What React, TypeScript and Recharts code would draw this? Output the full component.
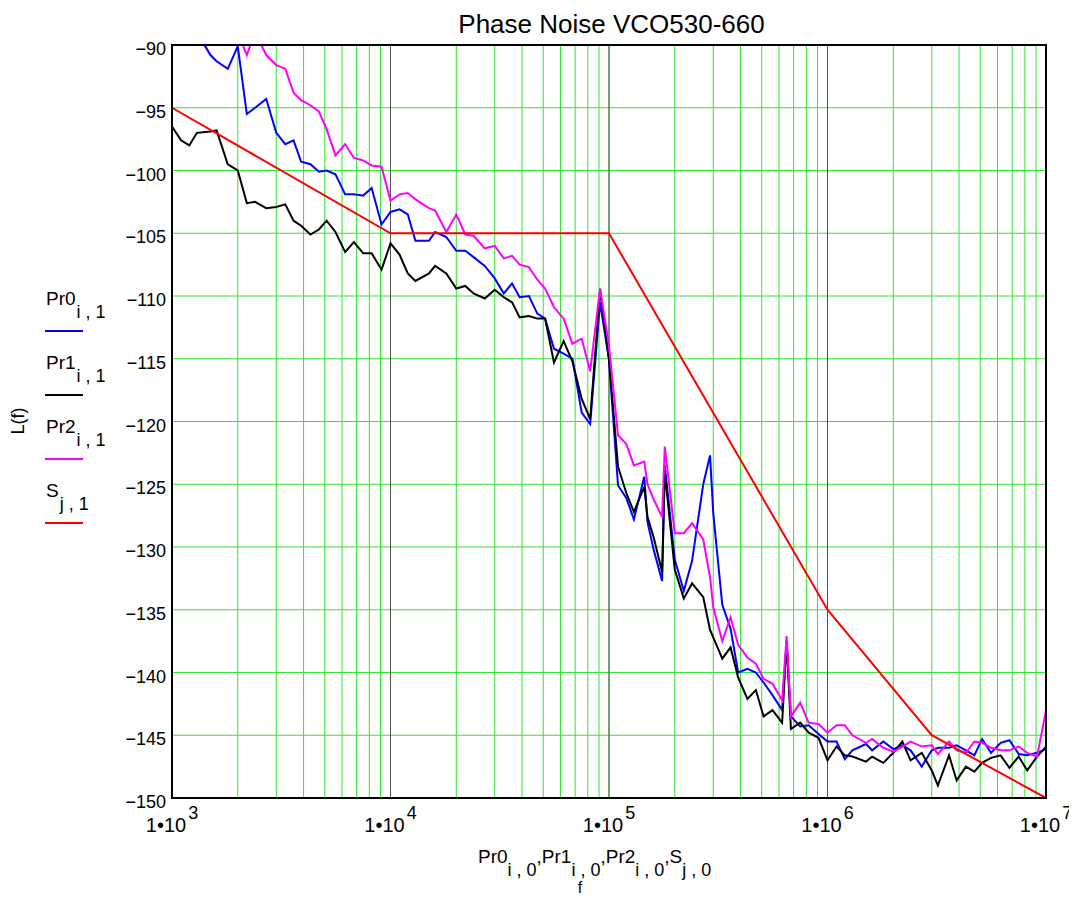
import { LineChart, Line, XAxis, YAxis, CartesianGrid } from 'recharts'

// measurement frequencies (Hz), shared by the three measured traces
const freq = [
  1000, 1100, 1200, 1300, 1500, 1600, 1800, 2000, 2200, 2400, 2700, 3000,
  3300, 3600, 3900, 4300, 4700, 5100, 5600, 6200, 6800, 7500, 8200, 9100,
  10000, 11000, 12000, 13000, 15000, 16000, 18000, 20000, 22000, 24000, 27000, 30000,
  33000, 36000, 39000, 43000, 47000, 51000, 56000, 62000, 68000, 75000, 82000, 91000,
  100000, 110000, 120000, 130000, 145000, 150000, 160000, 175000, 180000, 200000, 220000, 240000,
  270000, 290000, 300000, 330000, 360000, 390000, 430000, 470000, 510000, 560000, 620000, 650000,
  680000, 750000, 820000, 910000,
  1000000, 1100000, 1200000, 1300000, 1500000, 1600000, 1800000, 2000000, 2200000, 2400000, 2700000, 3000000,
  3200000, 3600000, 3900000, 4300000, 4700000, 5100000, 5600000, 6200000, 6800000, 7500000, 8200000, 9100000,
  10000000,
]

// Pr0 (blue)
const pr0 = [
  -86, -87, -88, -89, -90.8, -91.3, -91.9, -90.1, -95.5, -95.0, -94.3, -97.0,
  -97.9, -97.6, -99.3, -99.5, -100.1, -100.0, -100.3, -101.9, -101.9, -102.0, -101.4, -104.3,
  -103.3, -103.1, -103.5, -105.6, -105.6, -104.9, -105.3, -106.4, -106.4, -106.9, -107.6, -108.6,
  -109.8, -109.0, -110.1, -110.0, -111.4, -111.8, -114.2, -114.6, -115.0, -119.3, -120.2, -110.5,
  -115.1, -125.1, -126.1, -127.8, -124.4, -128.0, -130.2, -132.7, -123.5, -131.0, -133.5, -131.1,
  -125.0, -122.7, -127.3, -134.6, -136.5, -140.0, -139.7, -140.0, -140.8, -141.8, -143.0, -137.5,
  -143.5, -144.3, -144.2, -144.9,
  -145.5, -145.5, -146.9, -146.2, -145.7, -146.2, -145.5, -146.1, -145.8, -146.2, -147.5, -146.2,
  -146.0, -146.0, -145.8, -146.2, -146.6, -145.3, -146.4, -145.6, -145.4, -146.5, -146.6, -146.4,
  -146.1,
]

// Pr1 (black)
const pr1 = [
  -96.5, -97.6, -98.0, -97.0, -96.9, -96.8, -99.5, -100.0, -102.6, -102.5, -103.0, -102.9,
  -102.7, -104.0, -104.4, -105.1, -104.7, -104.0, -104.9, -106.5, -105.7, -106.6, -106.6, -107.9,
  -105.8, -106.7, -108.2, -108.8, -108.2, -107.6, -108.2, -109.4, -109.2, -109.8, -110.2, -109.5,
  -110.1, -110.5, -111.7, -111.6, -111.8, -111.8, -115.3, -113.6, -115.2, -118.2, -119.8, -109.5,
  -115.0, -123.6, -125.7, -127.2, -125.2, -127.6, -129.2, -132.0, -124.0, -131.8, -134.1, -132.9,
  -134.0, -136.6, -137.2, -138.9, -138.0, -140.4, -142.1, -141.4, -143.5, -143.0, -144.0, -137.5,
  -144.5, -144.0, -144.8, -145.2,
  -147.0, -145.9, -146.6, -146.7, -147.1, -146.7, -147.2, -146.4, -145.5, -147.0, -146.4, -147.8,
  -149.0, -146.6, -148.6, -147.5, -147.9, -147.2, -146.8, -146.6, -147.6, -146.7, -147.8, -146.7,
  -145.9,
]

// Pr2 (magenta)
const pr2 = [
  -82, -83, -84, -85, -86, -87, -88, -89, -90.8, -89, -90.8, -91.6,
  -91.9, -93.8, -94.4, -94.8, -95.3, -96.7, -98.8, -97.9, -99.0, -99.2, -99.6, -99.7,
  -102.4, -101.9, -101.8, -102.3, -103.0, -103.2, -104.9, -103.5, -105.1, -105.2, -106.2, -106.0,
  -107.0, -106.8, -107.5, -107.7, -108.7, -109.4, -110.9, -111.8, -113.8, -113.4, -116.0, -109.4,
  -114.0, -121.1, -121.8, -123.5, -123.2, -125.0, -126.2, -127.6, -122.0, -128.9, -128.9, -128.1,
  -129.4, -132.4, -134.8, -137.5, -135.6, -137.8, -138.8, -139.3, -140.5, -140.9, -142.2, -137.1,
  -143.5, -142.4, -144.0, -144.1,
  -144.8, -144.2, -144.2, -145.0, -145.6, -145.3, -146.0, -146.3, -145.9, -145.5, -145.9, -145.8,
  -146.5, -145.5, -146.2, -146.4, -145.5, -145.6, -146.0, -146.2, -146.2, -145.9, -146.4, -146.7,
  -143.0,
]

// spec mask S (red)
const sFreq = [1000, 10000, 100000, 1000000, 3000000, 10000000]
const sLevel = [-95, -105, -105, -135, -145, -150]

const decades = [1000, 10000, 100000, 1000000]
const majorFreqs = [10000, 100000, 1000000]
const levelTicks = [-150, -145, -140, -135, -130, -125, -120, -115, -110, -105, -100, -95, -90]
const F_MIN = 1000
const F_MAX = 10000000

const measured = freq.map((f, i) => ({ f, pr0: pr0[i], pr1: pr1[i], pr2: pr2[i] }))
const spec = sFreq.map((f, i) => ({ f, s: sLevel[i] }))
const freqTicks = [...decades.flatMap(d => [1, 2, 3, 4, 5, 6, 7, 8, 9].map(m => m * d)), F_MAX]

const FONT = '"Liberation Sans", Arial, sans-serif'

// position of a frequency inside the plot area (log axis)
const logPos = (v: number, offset: any) =>
  offset.left + (offset.width * Math.log10(v / F_MIN)) / Math.log10(F_MAX / F_MIN)

const FreqTick = ({ x, y, payload }: any) => {
  const v = payload.value
  const exp = Math.round(Math.log10(v))
  if (Math.abs(v - Math.pow(10, exp)) > v * 1e-6) return <g />
  return (
    <text x={x} y={y + 34} textAnchor="middle" fontFamily={FONT} fontSize={20} fill="#000">
      <tspan>1•10</tspan>
      <tspan dx={2} dy={-13} fontSize={18}>{exp}</tspan>
    </text>
  )
}

const LevelTick = ({ x, y, payload }: any) => (
  <text x={x - 6} y={y + 10} textAnchor="end" fontFamily={FONT} fontSize={18} fill="#000">
    {'\u2212' + Math.abs(payload.value)}
  </text>
)

const legendItems = [
  { name: 'Pr0', sub: 'i , 1', color: '#0000ff' },
  { name: 'Pr1', sub: 'i , 1', color: '#000000' },
  { name: 'Pr2', sub: 'i , 1', color: '#ff00ff' },
  { name: 'S', sub: 'j , 1', color: '#ff0000' },
]

export default function App() {
  return (
    <div style={{ position: 'relative', width: 1069, height: 890 }}>
      <LineChart width={1069} height={890} data={measured} margin={{ top: 37, right: 31, bottom: 40, left: 104 }}>
        <CartesianGrid stroke="#33e633" strokeWidth={1} />
        <CartesianGrid
          stroke="#505050"
          strokeWidth={1}
          horizontal={false}
          verticalCoordinatesGenerator={({ offset }: any) => majorFreqs.map(v => logPos(v, offset))}
        />
        <XAxis
          dataKey="f"
          type="number"
          scale="log"
          domain={[F_MIN, F_MAX]}
          ticks={freqTicks}
          interval={0}
          tick={<FreqTick />}
          tickLine={false}
          tickSize={0}
          tickMargin={0}
          axisLine={false}
          height={60}
        />
        <YAxis
          type="number"
          domain={[-150, -90]}
          ticks={levelTicks}
          interval={0}
          allowDataOverflow
          tick={<LevelTick />}
          tickLine={false}
          tickSize={0}
          tickMargin={0}
          axisLine={false}
          width={60}
        />
        <Line dataKey="pr0" stroke="#0000ff" strokeWidth={2} dot={false} type="linear" isAnimationActive={false} />
        <Line dataKey="pr1" stroke="#000000" strokeWidth={2} dot={false} type="linear" isAnimationActive={false} />
        <Line dataKey="pr2" stroke="#ff00ff" strokeWidth={2} dot={false} type="linear" isAnimationActive={false} />
        <Line data={spec} dataKey="s" stroke="#ff0000" strokeWidth={2} dot={false} type="linear" isAnimationActive={false} />
      </LineChart>

      <svg
        width={1069}
        height={890}
        style={{ position: 'absolute', left: 0, top: 0, pointerEvents: 'none' }}
        fontFamily={FONT}
      >
        <rect x={164} y={37} width={874} height={753} fill="none" stroke="#000" strokeWidth={2} />
        <text x={603.5} y={25} textAnchor="middle" fontSize={26} fill="#000">
          Phase Noise VCO530-660
        </text>

        {legendItems.map((item, i) => (
          <g key={item.name}>
            <text x={38} y={297 + i * 64} fontSize={19} fill="#000">
              {item.name}
              <tspan dx={1} dy={13} fontSize={18}>{item.sub}</tspan>
            </text>
            <line x1={37} x2={75} y1={323 + i * 64} y2={323 + i * 64} stroke={item.color} strokeWidth={2} />
          </g>
        ))}

        <text x={10} y={413} transform="rotate(-90 10 413)" textAnchor="middle" dominantBaseline="central" fontSize={18} fill="#000">
          L(f)
        </text>

        <text x={470} y={855} fontSize={19} fill="#000">
          Pr0<tspan dy={13} fontSize={18}>i , 0</tspan>
          <tspan dy={-13}>,Pr1</tspan><tspan dy={13} fontSize={18}>i , 0</tspan>
          <tspan dy={-13}>,Pr2</tspan><tspan dy={13} fontSize={18}>i , 0</tspan>
          <tspan dy={-13}>,S</tspan><tspan dy={13} fontSize={18}>j , 0</tspan>
        </text>
        <text x={572} y={885} textAnchor="middle" fontSize={16} fill="#000">
          f
        </text>
      </svg>
    </div>
  )
}
